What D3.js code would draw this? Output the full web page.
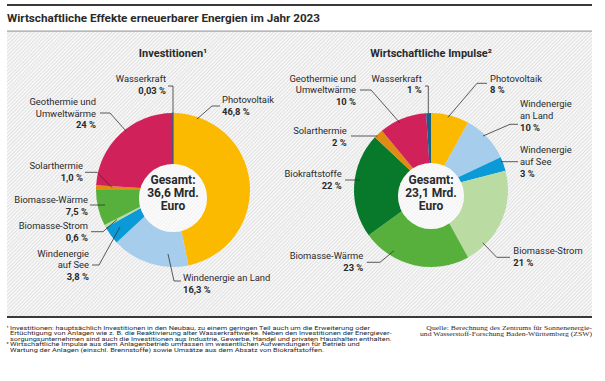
<!DOCTYPE html>
<html><head><meta charset="utf-8">
<script src="https://cdn.jsdelivr.net/npm/d3@7"></script>
<style>body{margin:0;background:#fff}svg{display:block}text{font-family:Roboto,"Noto Sans",sans-serif;fill:#2a2a2a}</style>
</head><body><svg id="c" width="605" height="381"></svg>
<script>
// ---- data ----
const categories = ["Photovoltaik","Windenergie an Land","Windenergie auf See","Biomasse-Strom","Biomasse-Wärme","Biokraftstoffe","Solarthermie","Geothermie und Umweltwärme","Wasserkraft"];
const investitionen = [46.8, 16.3, 3.8, 0.6, 7.5, 0, 1.0, 24, 0.03];
const impulse = [8, 10, 3, 21, 23, 22, 2, 10, 1];
const investitionenLabels = ["46,8 %","16,3 %","3,8 %","0,6 %","7,5 %","","1,0 %","24 %","0,03 %"];
const impulseLabels = ["8 %","10 %","3 %","21 %","23 %","22 %","2 %","10 %","1 %"];
const totals = ["36,6", "23,1"];
const colors = ["#fbb900","#a7cdec","#0b9ad8","#badca2","#58b03c","#08792b","#e08b12","#d0215b","#1a5f85"];

// ---- layout (label placement, relative to donut centre) ----
const leftLayout = {
  "Photovoltaik": {name:["Photovoltaik"], a:"start", x:49, y:-90, path:[[47,-84],[39,-84],[24,-71]]},
  "Windenergie an Land": {name:["Windenergie an Land"], a:"start", x:10, y:87.7, path:[[8,91],[1,91],[-5,64]]},
  "Windenergie auf See": {name:["Windenergie","auf See"], a:"end", x:-84, y:63.3, path:[[-81,75],[-74,75],[-53,37]]},
  "Biomasse-Strom": {name:["Biomasse-Strom"], a:"end", x:-85, y:35.7, path:[[-82,41.7],[-70,41.7],[-56,29.5]]},
  "Biomasse-Wärme": {name:["Biomasse-Wärme"], a:"end", x:-85, y:10, path:[[-83,15],[-68,15]]},
  "Solarthermie": {name:["Solarthermie"], a:"end", x:-90, y:-24.3, path:[[-88,-17.7],[-76,-17.7],[-61,-2.5]]},
  "Geothermie und Umweltwärme": {name:["Geothermie und","Umweltwärme"], a:"end", x:-77, y:-88.3, path:[[-73,-77],[-63,-77],[-47,-59]]},
  "Wasserkraft": {name:["Wasserkraft"], a:"end", x:-7, y:-111, path:[[-5,-104],[0,-104],[0,-77]]}
};
const rightLayout = {
  "Photovoltaik": {name:["Photovoltaik"], a:"start", x:59, y:-111.7, path:[[56,-106.7],[46,-106.7],[17,-72.7]]},
  "Windenergie an Land": {name:["Windenergie","an Land"], a:"start", x:89, y:-86, path:[[87,-65.7],[79,-65.7],[52,-54]]},
  "Windenergie auf See": {name:["Windenergie","auf See"], a:"start", x:89, y:-40, path:[[87,-28.3],[70,-28.3]]},
  "Biomasse-Strom": {name:["Biomasse-Strom"], a:"start", x:82.3, y:61, path:[[79,67.3],[65.7,67.3],[51.7,52.7]]},
  "Biomasse-Wärme": {name:["Biomasse-Wärme"], a:"end", x:-67.7, y:66, path:[[-64.3,72.3],[-51,72.3],[-37,60.7]]},
  "Biokraftstoffe": {name:["Biokraftstoffe"], a:"end", x:-89.3, y:-16, path:[[-86,-10],[-71,-10]]},
  "Solarthermie": {name:["Solarthermie"], a:"end", x:-84.3, y:-59.3, path:[[-80,-54],[-53.7,-54]]},
  "Geothermie und Umweltwärme": {name:["Geothermie und","Umweltwärme"], a:"end", x:-75, y:-111.7, path:[[-71,-100],[-60,-100],[-31,-67]]},
  "Wasserkraft": {name:["Wasserkraft"], a:"end", x:-9.3, y:-111.7, path:[[-6,-104],[-2.7,-104],[-2.7,-77]]}
};

const svg = d3.select("#c");
const defs = svg.append("defs");
const pat = defs.append("pattern").attr("id","hatch").attr("width",2.6).attr("height",2.6)
  .attr("patternUnits","userSpaceOnUse").attr("patternTransform","rotate(45)");
pat.append("rect").attr("width",2.6).attr("height",2.6).attr("fill","#f8f8f8");
pat.append("line").attr("x1",0.5).attr("y1",0).attr("x2",0.5).attr("y2",2.6).attr("stroke","#e0e0e0").attr("stroke-width",1);

// frame
svg.append("rect").attr("x",7).attr("y",32).attr("width",585).attr("height",284).attr("fill","url(#hatch)");
svg.append("line").attr("x1",7).attr("x2",592).attr("y1",5).attr("y2",5).attr("stroke","#3a3a3a").attr("stroke-width",2);
svg.append("line").attr("x1",7).attr("x2",592).attr("y1",31.2).attr("y2",31.2).attr("stroke","#a0a0a0").attr("stroke-width",1.3);
svg.append("line").attr("x1",7).attr("x2",592).attr("y1",317).attr("y2",317).attr("stroke","#3a3a3a").attr("stroke-width",2);

svg.append("text").attr("x",7).attr("y",21.6).attr("font-weight",700).attr("font-size",11.7)
  .text("Wirtschaftliche Effekte erneuerbarer Energien im Jahr 2023");

const pie = d3.pie().sort(null).startAngle(0).endAngle(2*Math.PI);
const R = 77;
const arc = d3.arc().innerRadius(0).outerRadius(R);

function donut(cx, cy, values, pctLabels, layout, title, total, holeDy, holeR) {
  const g = svg.append("g").attr("transform",`translate(${cx},${cy})`);
  svg.append("text").attr("x",cx).attr("y",57).attr("text-anchor","middle")
    .attr("font-weight",700).attr("font-size",11).text(title);
  const arcs = pie(values);
  g.selectAll("path.s").data(arcs).join("path").attr("class","s")
    .attr("d",arc).attr("fill",(d,i)=>colors[i])
    .attr("stroke",(d,i)=> d.value < 0.5 && d.value > 0 ? colors[i] : "none")
    .attr("stroke-width",1.1);
  g.append("circle").attr("cx",0).attr("cy",holeDy).attr("r",holeR).attr("fill","#fff");
  g.append("circle").attr("cx",0).attr("cy",holeDy).attr("r",holeR).attr("fill","url(#hatch)").attr("opacity",0.45);
  const tl = ["Gesamt:", total+" Mrd.", "Euro"];
  tl.forEach((t,k)=> g.append("text").attr("x",0).attr("y",-10+13*k+4.2).attr("text-anchor","middle")
     .attr("font-weight",700).attr("font-size",12).text(t));
  categories.forEach((c,i)=>{
    const L = layout[c]; if(!L || values[i]===0) return;
    g.append("path").attr("d", d3.line()(L.path)).attr("fill","none").attr("stroke","#333").attr("stroke-width",0.8);
    const lines = L.name.concat([pctLabels[i]]);
    lines.forEach((t,k)=>{
      g.append("text").attr("x",L.x).attr("y",L.y+11.6*k+3.4).attr("text-anchor",L.a)
        .attr("font-size",9.4).attr("font-weight", k===lines.length-1 ? 700 : 400).text(t);
    });
  });
}
donut(173, 190, investitionen, investitionenLabels, leftLayout, "Investitionen¹", totals[0], 8, 34);
donut(431, 190, impulse, impulseLabels, rightLayout, "Wirtschaftliche Impulse²", totals[1], 6, 33);

// footnotes (condensed to the reference width)
const footMarks = ["¹","","","²",""];
const footLines = [
  "Investitionen: hauptsächlich Investitionen in den Neubau, zu einem geringen Teil auch um die Erweiterung oder",
  "Ertüchtigung von Anlagen wie z. B. die Reaktivierung alter Wasserkraftwerke. Neben den Investitionen der Energiever-",
  "sorgungsunternehmen sind auch die Investitionen aus Industrie, Gewerbe, Handel und privaten Haushalten enthalten.",
  "Wirtschaftliche Impulse aus dem Anlagenbetrieb umfassen im wesentlichen Aufwendungen für Betrieb und",
  "Wartung der Anlagen (einschl. Brennstoffe) sowie Umsätze aus dem Absatz von Biokraftstoffen."
];
const fnodes = footLines.map((t,k)=>{
  if (footMarks[k]) svg.append("text").attr("x",6.5).attr("y",329.6+5.6*k).attr("font-size",5.8).attr("fill","#333").text(footMarks[k]);
  return svg.append("text").attr("x",10).attr("y",329.6+5.6*k).attr("font-size",5.8).attr("fill","#333").text(t);
});
const fRatio = 381.7 / fnodes[2].node().getComputedTextLength();
fnodes.forEach(n=>{ const w=n.node().getComputedTextLength(); n.attr("textLength", w*fRatio).attr("lengthAdjust","spacingAndGlyphs"); });

const src = ["Quelle: Berechnung des Zentrums für Sonnenenergie-","und Wasserstoff-Forschung Baden-Württemberg (ZSW)"];
const snodes = src.map((t,k)=> svg.append("text").attr("x",592).attr("y",330.2+5.7*k).attr("text-anchor","end")
  .style("font-family","'Liberation Serif','DejaVu Serif',serif").attr("font-size",6.2).attr("fill","#333").text(t));
const sRatio = 172 / snodes[1].node().getComputedTextLength();
snodes.forEach(n=>{ const w=n.node().getComputedTextLength(); n.attr("textLength", w*sRatio).attr("lengthAdjust","spacingAndGlyphs"); });
</script></body></html>
